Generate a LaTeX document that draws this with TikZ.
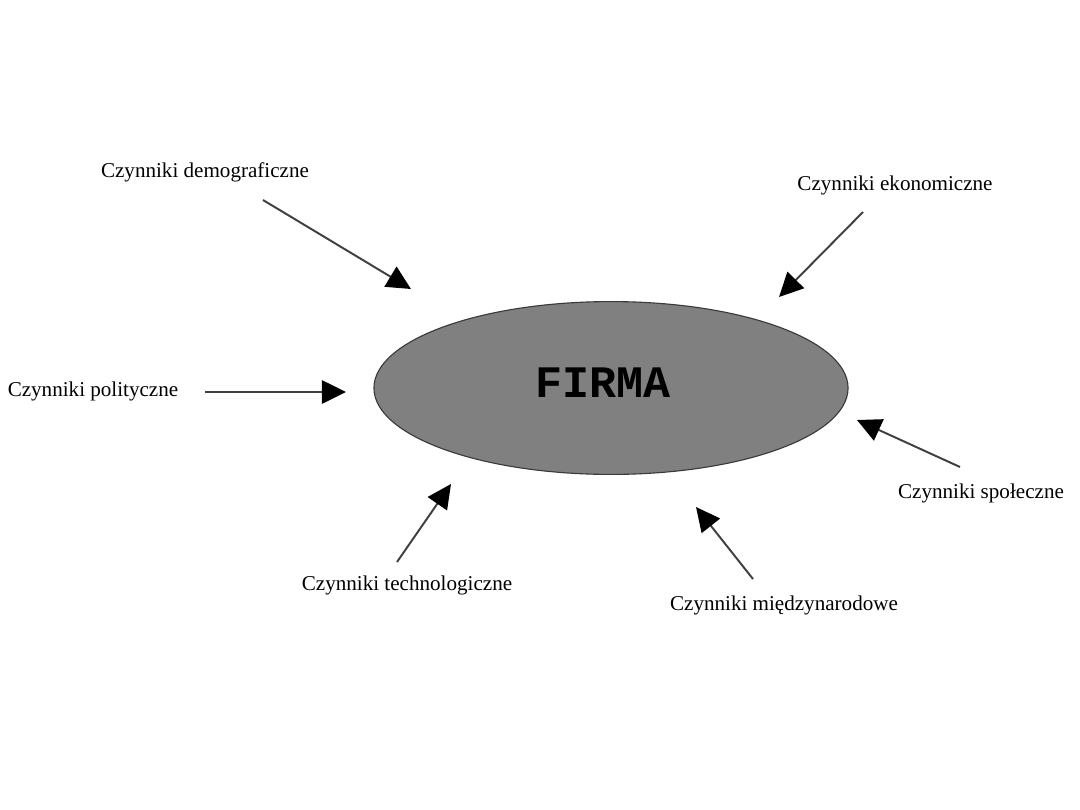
\documentclass[tikz,border=0pt]{standalone}
\usepackage{fontspec}
\setmainfont{Liberation Serif}
\newfontfamily\firmafont{Liberation Mono}
\usetikzlibrary{arrows.meta,positioning,shapes.geometric}
\definecolor{FirmGray}{HTML}{808080}
\definecolor{EdgeGray}{HTML}{3A3A3A}
\definecolor{LineGray}{HTML}{404040}

\begin{document}
\begin{tikzpicture}[x=0.025cm,y=-0.025cm,>={Triangle[length=0.6cm,width=0.58cm,color=black]},
    factor/.style={font=\fontsize{15}{18}\selectfont,inner sep=0pt},
    push/.style={->,line width=1.4pt,color=LineGray}]
      \useasboundingbox (0,0) rectangle (1080,810);
      \node[ellipse,draw=EdgeGray,fill=FirmGray,line width=0.8pt,minimum width=11.85cm,minimum height=4.32cm,inner sep=0pt] (firma) at (611,388) {};
      \node[font=\firmafont\bfseries\fontsize{32}{36}\selectfont,inner sep=0pt] (firmatext) at (603,383) {FIRMA};
      % labels
      \node[factor] (demo) at (205,172) {Czynniki demograficzne};
      \node[factor] (eko) at (895,185) {Czynniki ekonomiczne};
      \node[factor] (pol) at (93,391) {Czynniki polityczne};
      \node[factor] (spol) at (981,493) {Czynniki społeczne};
      \node[factor] (tech) at (407,585) {Czynniki technologiczne};
      \node[factor] (mdz) at (784,605) {Czynniki międzynarodowe};
      % arrow ends
      \coordinate (demo0) at (263,200);  \coordinate (demo1) at (411,289);
      \coordinate (eko0) at (863,212);   \coordinate (eko1) at (779,297);
      \coordinate (pol0) at (205,392);   \coordinate (pol1) at (346,392);
      \coordinate (spol0) at (960,467);  \coordinate (spol1) at (857,420);
      \coordinate (tech0) at (397,562);  \coordinate (tech1) at (451,484);
      \coordinate (mdz0) at (753,579);   \coordinate (mdz1) at (696,507);
      \draw[push] (demo0) -- (demo1);
      \draw[push] (eko0) -- (eko1);
      \draw[push] (pol0) -- (pol1);
      \draw[push] (spol0) -- (spol1);
      \draw[push] (tech0) -- (tech1);
      \draw[push] (mdz0) -- (mdz1);
    \end{tikzpicture}
\end{document}
